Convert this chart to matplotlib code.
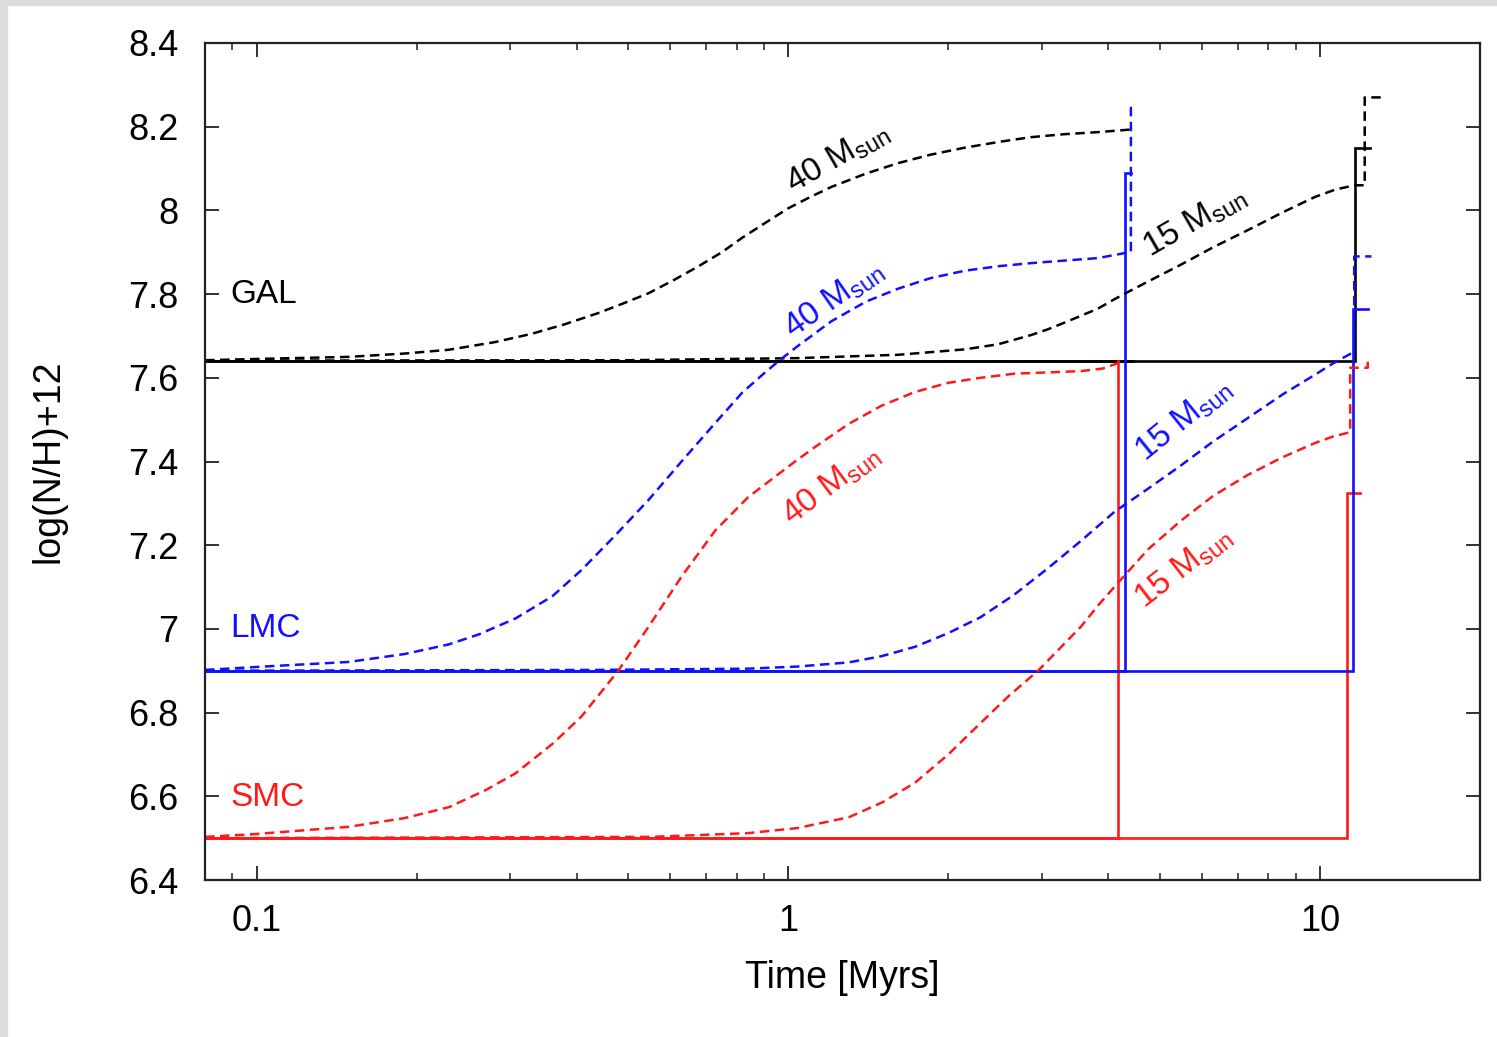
import numpy as np
import matplotlib
matplotlib.use("Agg")
import matplotlib.pyplot as plt
from matplotlib.ticker import LogLocator, NullFormatter, FixedLocator
from matplotlib.patches import Rectangle

# ── DATA ──────────────────────────────────────────────────────────────────────
# surface N/H (dashed) for each galaxy / mass, time in Myr
gal40_t = [0.08, 0.1, 0.149, 0.19, 0.23, 0.28, 0.329, 0.38, 0.44, 0.49, 0.546,
           0.61, 0.677, 0.75, 0.82, 0.905, 1.0, 1.1, 1.205, 1.4, 1.61, 1.85,
           2.15, 2.5, 2.86, 3.3, 3.82, 4.49]
gal40_v = [7.642, 7.645, 7.65, 7.658, 7.667, 7.685, 7.705, 7.728, 7.755, 7.778, 7.802,
           7.834, 7.866, 7.90, 7.935, 7.97, 8.005, 8.032, 8.056, 8.088, 8.113, 8.133,
           8.15, 8.164, 8.175, 8.182, 8.187, 8.194]

gal15_t = [0.08, 0.5, 1.04, 1.61, 2.15, 2.48, 2.86, 3.08, 3.31, 3.82, 4.11, 4.4,
           4.75, 5.47, 6.3, 7.32, 8.5, 9.78, 10.7, 11.63, 12.14, 12.14, 13.1]
gal15_v = [7.641, 7.642, 7.647, 7.655, 7.668, 7.68, 7.702, 7.716, 7.732, 7.765, 7.788, 7.808,
           7.83, 7.87, 7.912, 7.953, 7.995, 8.032, 8.05, 8.06, 8.06, 8.27, 8.27]

lmc40_t = [0.08, 0.11, 0.149, 0.19, 0.23, 0.262, 0.307, 0.36, 0.408, 0.47, 0.546,
           0.63, 0.729, 0.82, 0.905, 0.97, 1.04, 1.205, 1.4, 1.61, 1.85, 2.15,
           2.5, 2.86, 3.3, 3.82, 4.38, 4.41, 4.41, 4.52]
lmc40_v = [6.902, 6.912, 6.921, 6.94, 6.963, 6.987, 7.025, 7.078, 7.14, 7.22, 7.308,
           7.40, 7.492, 7.565, 7.613, 7.645, 7.675, 7.735, 7.782, 7.813, 7.838, 7.856,
           7.867, 7.874, 7.88, 7.886, 7.90, 7.90, 8.245, 8.245]

lmc15_t = [0.08, 0.44, 0.841, 1.04, 1.30, 1.5, 1.73, 2.0, 2.30, 2.65, 3.08, 3.55,
           4.11, 4.75, 5.47, 6.3, 7.32, 8.5, 9.78, 10.6, 11.4, 11.6, 11.6, 12.5]
lmc15_v = [6.90, 6.902, 6.905, 6.91, 6.92, 6.935, 6.957, 6.99, 7.028, 7.08, 7.145, 7.21,
           7.28, 7.335, 7.39, 7.448, 7.504, 7.56, 7.607, 7.635, 7.657, 7.66, 7.89, 7.89]

smc40_t = [0.08, 0.1, 0.149, 0.19, 0.23, 0.27, 0.307, 0.36, 0.408, 0.479, 0.546,
           0.63, 0.729, 0.841, 1.03, 1.124, 1.30, 1.496, 1.73, 2.0, 2.30, 2.67,
           3.1, 3.55, 3.9, 4.17]
smc40_v = [6.503, 6.51, 6.527, 6.548, 6.574, 6.615, 6.655, 6.725, 6.79, 6.90, 7.005,
           7.125, 7.235, 7.315, 7.40, 7.435, 7.49, 7.533, 7.566, 7.588, 7.60, 7.61,
           7.613, 7.616, 7.622, 7.635]

smc15_t = [0.08, 0.55, 0.841, 1.04, 1.30, 1.5, 1.73, 2.0, 2.30, 2.6, 2.95, 3.25,
           3.55, 3.85, 4.17, 4.75, 5.47, 6.3, 7.32, 8.5, 9.78, 10.6, 11.4, 11.4,
           12.3, 12.3]
smc15_v = [6.50, 6.503, 6.512, 6.524, 6.55, 6.585, 6.632, 6.70, 6.775, 6.84, 6.90, 6.955,
           7.005, 7.06, 7.11, 7.19, 7.258, 7.318, 7.368, 7.41, 7.444, 7.46, 7.47, 7.624,
           7.624, 7.64]

# solid step lines
gal40_st, gal40_sv = [0.08, 4.45], [7.64, 7.64]
gal15_st, gal15_sv = [0.08, 11.63, 11.63, 12.4], [7.64, 7.64, 8.15, 8.15]
lmc40_st, lmc40_sv = [0.08, 4.30, 4.30, 4.41], [6.90, 6.90, 8.09, 8.09]
lmc15_st, lmc15_sv = [0.08, 11.55, 11.55, 12.3], [6.90, 6.90, 7.764, 7.764]
smc40_st, smc40_sv = [0.08, 4.17, 4.17], [6.50, 6.50, 7.64]
smc15_st, smc15_sv = [0.08, 11.24, 11.24, 11.9], [6.50, 6.50, 7.325, 7.325]

# curve labels: (text, t, v, angle, color)
curve_labels = [
    ("40 M$_\\mathrm{sun}$", 1.24, 8.125, 30, "black"),
    ("15 M$_\\mathrm{sun}$", 5.82, 7.972, 30, "black"),
    ("40 M$_\\mathrm{sun}$", 1.22, 7.788, 35, "blue"),
    ("15 M$_\\mathrm{sun}$", 5.53, 7.499, 39, "blue"),
    ("40 M$_\\mathrm{sun}$", 1.205, 7.344, 37, "red"),
    ("15 M$_\\mathrm{sun}$", 5.53, 7.146, 38, "red"),
]
galaxy_labels = [("GAL", 7.80, "black"), ("LMC", 7.002, "blue"), ("SMC", 6.598, "red")]

x_major = [0.1, 1, 10]
x_major_labels = ["0.1", "1", "10"]
y_ticks = [6.4, 6.6, 6.8, 7.0, 7.2, 7.4, 7.6, 7.8, 8.0, 8.2, 8.4]

# ── STYLE ─────────────────────────────────────────────────────────────────────
plt.rcParams["font.family"] = ["Liberation Sans", "DejaVu Sans"]
plt.rcParams["mathtext.fontset"] = "custom"
plt.rcParams["mathtext.rm"] = "Liberation Sans"
plt.rcParams["mathtext.it"] = "Liberation Sans:italic"

BLUE = "#1010ff"
RED = "#ff1a1a"
colmap = {"black": "black", "blue": BLUE, "red": RED}

fig = plt.figure(figsize=(14.97, 10.37), dpi=100)
fig.patches.append(Rectangle((0, 0), 7 / 1497, 1, transform=fig.transFigure,
                             color="#dcdcdc", zorder=-10))
fig.patches.append(Rectangle((0, 1 - 5 / 1037), 1, 5 / 1037, transform=fig.transFigure,
                             color="#dcdcdc", zorder=-10))

ax = fig.add_axes([205 / 1497, 1 - 880 / 1037, 1275 / 1497, 837 / 1037])
ax.set_xscale("log")
ax.set_xlim(0.08, 20)
ax.set_ylim(6.4, 8.4)

dash = (0, (3.8, 2.2))
lw_d, lw_s = 1.8, 1.9

# solid lines
for t, v, c in [(gal40_st, gal40_sv, "black"), (gal15_st, gal15_sv, "black"),
                (smc40_st, smc40_sv, RED), (smc15_st, smc15_sv, RED),
                (lmc40_st, lmc40_sv, BLUE), (lmc15_st, lmc15_sv, BLUE)]:
    ax.plot(t, v, color=c, lw=lw_s, solid_joinstyle="miter")

# dashed lines
for t, v, c in [(gal40_t, gal40_v, "black"), (gal15_t, gal15_v, "black"),
                (lmc40_t, lmc40_v, BLUE), (lmc15_t, lmc15_v, BLUE),
                (smc40_t, smc40_v, RED), (smc15_t, smc15_v, RED)]:
    ax.plot(t, v, color=c, lw=lw_d, linestyle=dash)

for txt, t, v, ang, c in curve_labels:
    ax.text(t, v, txt, color=colmap[c], fontsize=24, rotation=ang,
            rotation_mode="anchor", ha="center", va="center")

for txt, v, c in galaxy_labels:
    ax.text(0.0893, v, txt, color=colmap[c], fontsize=24, ha="left", va="center")

# axes
ax.set_xticks(x_major)
ax.set_xticklabels(x_major_labels)
ax.xaxis.set_minor_locator(LogLocator(base=10, subs=np.arange(2, 10)))
ax.xaxis.set_minor_formatter(NullFormatter())
ax.yaxis.set_major_locator(FixedLocator(y_ticks))
ax.set_yticklabels([f"{v:g}" for v in y_ticks])

ax.tick_params(which="both", direction="in", top=True, right=True,
               labelsize=26, colors="#222222")
ax.tick_params(which="major", length=10, width=1.3)
ax.tick_params(which="minor", length=5, width=1.1)
ax.tick_params(axis="y", pad=19)
ax.tick_params(axis="x", pad=17)
for tl in ax.get_xticklabels() + ax.get_yticklabels():
    tl.set_color("black")
for s in ax.spines.values():
    s.set_linewidth(1.6)
    s.set_color("#222222")

ax.set_xlabel("Time [Myrs]", fontsize=27)
ax.xaxis.set_label_coords(0.4996, -0.096)
ax.set_ylabel("log(N/H)+12", fontsize=27, va="center")
ax.yaxis.set_label_coords(-0.123, 0.5)

fig.savefig("out.png", dpi=100)
